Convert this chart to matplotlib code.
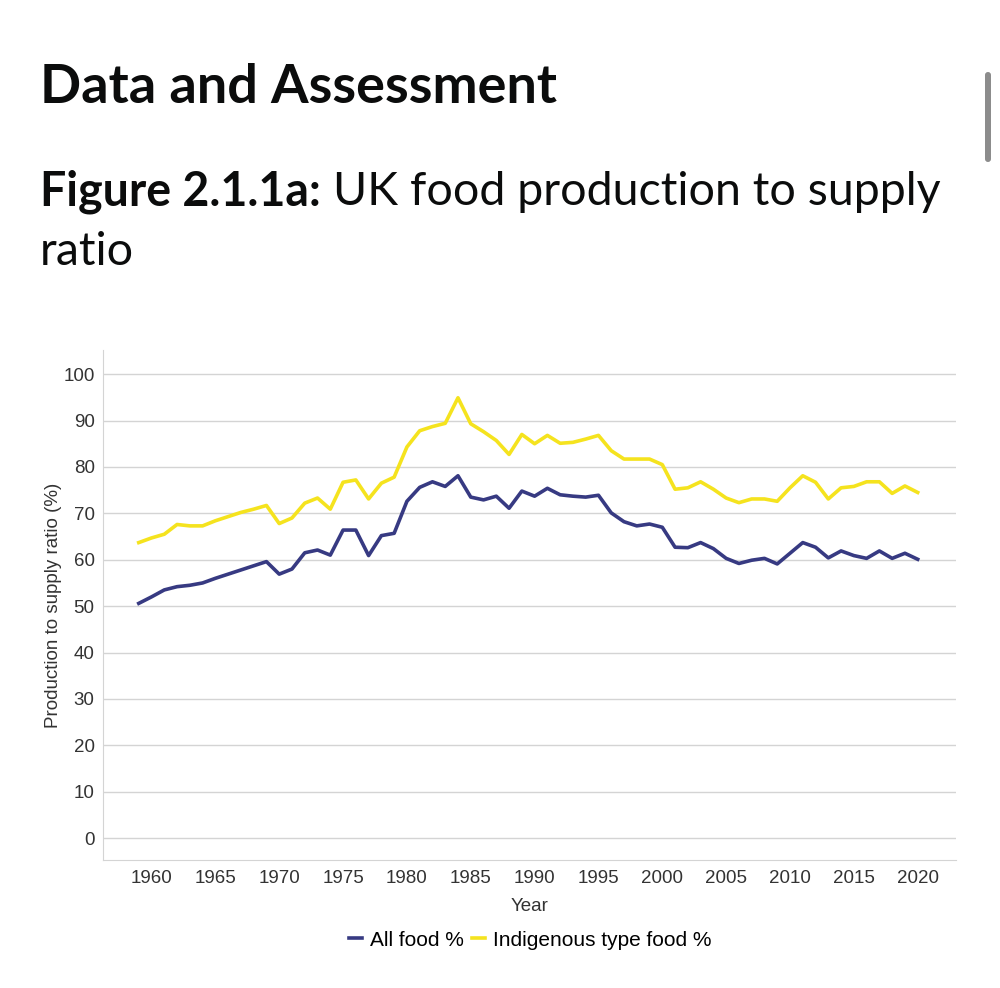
import matplotlib
matplotlib.use("Agg")
import matplotlib.pyplot as plt
from matplotlib.patches import FancyBboxPatch
from matplotlib.lines import Line2D

years = list(range(1959, 2021))
all_food = [50.6, 52.0, 53.5, 54.2, 54.5, 55.0, 56.0, 56.9, 57.8, 58.7,
            59.6, 56.9, 58.0, 61.5, 62.1, 61.0, 66.4, 66.4, 60.9, 65.2,
            65.7, 72.6, 75.6, 76.8, 75.8, 78.1, 73.5, 72.9, 73.7, 71.1,
            74.8, 73.7, 75.4, 74.0, 73.7, 73.5, 73.9, 70.1, 68.2, 67.3,
            67.7, 67.0, 62.7, 62.6, 63.7, 62.4, 60.3, 59.2, 59.9, 60.3,
            59.1, 61.4, 63.7, 62.7, 60.4, 61.9, 60.9, 60.3, 61.9, 60.3,
            61.4, 60.1]
indigenous = [63.7, 64.7, 65.5, 67.6, 67.3, 67.3, 68.4, 69.3, 70.2, 70.9,
              71.7, 67.8, 69.0, 72.2, 73.3, 70.9, 76.7, 77.2, 73.1, 76.5,
              77.8, 84.3, 87.8, 88.7, 89.4, 94.9, 89.3, 87.6, 85.7, 82.7,
              87.0, 85.0, 86.8, 85.1, 85.3, 86.0, 86.8, 83.5, 81.7, 81.7,
              81.7, 80.5, 75.2, 75.5, 76.8, 75.2, 73.3, 72.3, 73.1, 73.1,
              72.6, 75.5, 78.1, 76.7, 73.1, 75.5, 75.8, 76.8, 76.8, 74.3,
              75.9, 74.5]
xtick_years = list(range(1960, 2021, 5))
yticks = list(range(0, 101, 10))

navy = "#373a82"
yellow = "#f5e31e"
grid_col = "#d4d4d4"
txt_col = "#333333"
FS = 13.5

fig = plt.figure(figsize=(10, 9.88), dpi=100)

# page headings
fig.text(0.040, 1 - 103 / 988, "Data and Assessment", fontsize=39,
         fontweight="bold", family="Lato", color="#0b0c0c")
t = fig.text(0.040, 1 - 205 / 988, "Figure 2.1.1a:", fontsize=33.5,
             fontweight="bold", family="Lato", color="#0b0c0c")
fig.canvas.draw()
bb = t.get_window_extent().transformed(fig.transFigure.inverted())
fig.text(bb.x1 + 0.012, 1 - 205 / 988, "UK food production to supply",
         fontsize=33.5, family="Lato", color="#0b0c0c")
fig.text(0.040, 1 - 265 / 988, "ratio", fontsize=33.5, family="Lato",
         color="#0b0c0c")

# scrollbar
fig.patches.append(FancyBboxPatch((0.985, 1 - 162 / 988), 0.006, 90 / 988,
                                  boxstyle="round,pad=0,rounding_size=0.003",
                                  transform=fig.transFigure,
                                  facecolor="#8c8c8c", edgecolor="none"))

ax = fig.add_axes([0.103, 1 - 860 / 988, 0.853, 510 / 988])
ax.plot(years, all_food, color=navy, lw=2.6, label="All food %")
ax.plot(years, indigenous, color=yellow, lw=2.6, label="Indigenous type food %")

ax.set_xlim(1956.2, 2023.0)
ax.set_ylim(-4.7, 105.2)
ax.set_yticks(yticks)
ax.set_xticks(xtick_years)
ax.grid(axis="y", color=grid_col, lw=1)
ax.set_axisbelow(True)
for s in ["top", "right"]:
    ax.spines[s].set_visible(False)
for s in ["left", "bottom"]:
    ax.spines[s].set_color(grid_col)
ax.tick_params(length=0, labelsize=FS, colors=txt_col)
ax.tick_params(axis="y", pad=6)
ax.tick_params(axis="x", pad=7)
for lab in ax.get_xticklabels() + ax.get_yticklabels():
    lab.set_family("Liberation Sans")
ax.set_xlabel("Year", fontsize=FS, family="Liberation Sans", color=txt_col,
              labelpad=8)
ax.set_ylabel("Production to supply ratio (%)", fontsize=FS,
              family="Liberation Sans", color=txt_col, labelpad=1)

handles = [Line2D([], [], color=navy, lw=2.6), Line2D([], [], color=yellow, lw=2.6)]
fig.legend(handles, ["All food %", "Indigenous type food %"], loc="center",
           bbox_to_anchor=(0.530, 1 - 940 / 988), ncol=2, frameon=False,
           handlelength=0.65, handletextpad=0.35, columnspacing=0.4,
           prop={"family": "Liberation Sans", "size": 15})

fig.savefig("out.png", dpi=100)
